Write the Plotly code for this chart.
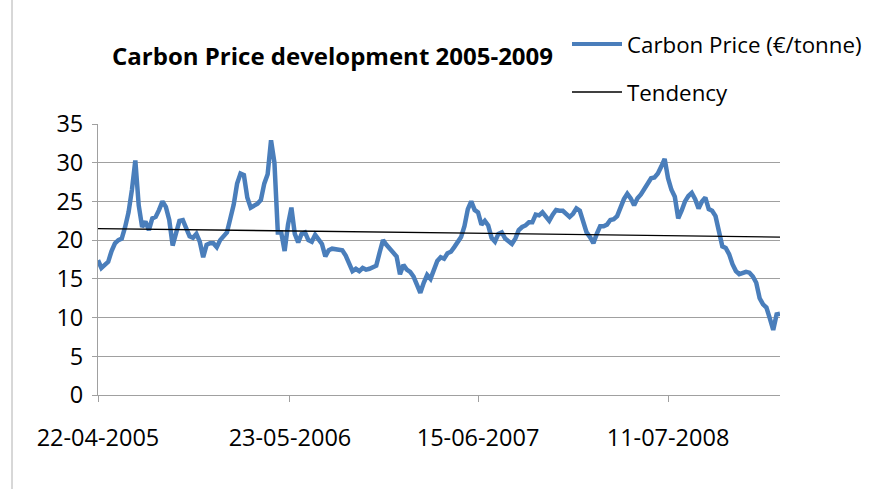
import pandas as pd
import plotly.graph_objects as go

# weekly closing price (EUR / tonne), first week = 22-04-2005
START_DATE = "2005-04-22"
PRICE = [
    17.4, 16.4, 16.8, 17.2, 18.6, 19.6, 20.0, 20.2, 21.7, 23.6,
    26.5, 30.3, 24.5, 21.7, 22.4, 21.3, 22.8, 23.0, 23.9, 25.0,
    24.3, 22.6, 19.3, 21.2, 22.5, 22.6, 21.5, 20.5, 20.3, 20.8,
    19.8, 17.8, 19.4, 19.6, 19.6, 19.1, 20.0, 20.6, 21.0, 22.8,
    24.6, 27.3, 28.6, 28.4, 25.5, 24.2, 24.5, 24.7, 25.2, 27.3,
    28.5, 32.9, 30.0, 21.0, 21.0, 18.6, 22.0, 24.2, 20.8, 19.7,
    20.8, 21.0, 20.0, 19.8, 20.7, 20.2, 19.5, 17.9, 18.7, 18.9,
    18.8, 18.7, 18.7, 18.0, 16.8, 16.0, 16.3, 16.0, 16.4, 16.2,
    16.3, 16.5, 16.7, 18.4, 20.0, 19.4, 18.9, 18.3, 17.9, 15.6,
    16.8, 16.2, 15.9, 15.3, 14.3, 13.2, 14.5, 15.5, 15.0, 16.2,
    17.3, 17.8, 17.6, 18.3, 18.5, 19.1, 19.7, 20.4, 21.8, 24.0,
    25.0, 23.9, 23.6, 22.0, 22.5, 21.9, 20.3, 19.8, 20.8, 21.0,
    20.2, 19.9, 19.5, 20.2, 21.3, 21.7, 21.9, 22.3, 22.3, 23.3,
    23.2, 23.6, 23.0, 22.5, 23.3, 23.9, 23.8, 23.8, 23.4, 23.0,
    23.4, 24.1, 23.8, 22.6, 21.0, 20.4, 19.6, 20.8, 21.8, 21.8,
    22.0, 22.6, 22.7, 23.1, 24.2, 25.3, 26.0, 25.4, 24.5, 25.4,
    25.9, 26.6, 27.3, 28.0, 28.1, 28.6, 29.5, 30.5, 28.0, 26.5,
    25.6, 22.8, 23.8, 25.0, 25.7, 26.1, 25.3, 24.1, 25.0, 25.5,
    24.0, 23.8, 23.1, 21.0, 19.2, 19.0, 18.2, 16.9, 16.0, 15.6,
    15.8, 15.9, 15.8, 15.3, 14.5, 12.5, 11.7, 11.3, 9.9, 8.4,
    10.4, 10.5,
]

# linear tendency, start and end values
TREND = [21.5, 20.4]

TICK_DATES = ["2005-04-22", "2006-05-23", "2007-06-15", "2008-07-11"]
TICK_TEXT = ["22-04-2005", "23-05-2006", "15-06-2007", "11-07-2008"]

SERIES_NAMES = ["Carbon Price (€/tonne)", "Tendency"]

dates = pd.date_range(START_DATE, periods=len(PRICE), freq="7D")

FONT = "Open Sans, Lato, sans-serif"
GRID = "#a0a0a0"
BLUE = "#4a7ebb"

# plot area in pixels (margins), used to place the hand-drawn legend
W, H = 885, 489
L, R, T, B = 98, 105, 124, 94
PW, PH = W - L - R, H - T - B


def px(x):
    return (x - L) / PW


def py(y):
    return (H - B - y) / PH


fig = go.Figure()
fig.add_trace(go.Scatter(
    x=dates, y=PRICE, mode="lines", name=SERIES_NAMES[0],
    line=dict(color=BLUE, width=4.5), showlegend=False,
))
fig.add_trace(go.Scatter(
    x=[dates[0], dates[-1]], y=TREND, mode="lines", name=SERIES_NAMES[1],
    line=dict(color="black", width=1.3), showlegend=False,
))

fig.update_xaxes(
    range=[dates[0], dates[-1]],
    tickvals=TICK_DATES, ticktext=TICK_TEXT,
    showgrid=False, showline=True, linecolor=GRID, linewidth=1,
    ticks="outside", ticklen=6, tickcolor=GRID,
    ticklabelstandoff=16, automargin=False,
    tickfont=dict(family=FONT, size=23.5, color="black"),
)
fig.update_yaxes(
    range=[0, 35], dtick=5,
    showgrid=True, gridcolor=GRID, gridwidth=1,
    showline=True, linecolor=GRID, linewidth=1,
    ticks="outside", ticklen=5, tickcolor=GRID,
    ticklabelstandoff=4, zeroline=False, automargin=False,
    tickfont=dict(family=FONT, size=23.5, color="black"),
)

# legend drawn by hand: long line samples, two rows far apart
legend_rows = [(SERIES_NAMES[0], BLUE, 4, 44), (SERIES_NAMES[1], "black", 1.3, 92)]
shapes = [dict(type="line", xref="paper", yref="paper",
               x0=px(12), x1=px(12), y0=py(H), y1=py(0),
               line=dict(color="#b0b0b0", width=1))]
annotations = []
for name, color, width, yc in legend_rows:
    shapes.append(dict(type="line", xref="paper", yref="paper",
                       x0=px(572), x1=px(622), y0=py(yc), y1=py(yc),
                       line=dict(color=color, width=width)))
    annotations.append(dict(xref="paper", yref="paper", x=px(625), y=py(yc),
                            xanchor="left", yanchor="middle", showarrow=False,
                            text=name, font=dict(family=FONT, size=22.3, color="black")))

fig.update_layout(
    width=W, height=H,
    margin=dict(l=L, r=R, t=T, b=B),
    paper_bgcolor="white", plot_bgcolor="white",
    showlegend=False,
    title=dict(
        text="<b>Carbon Price development 2005-2009</b>",
        x=112 / W, xanchor="left", y=1 - 57 / H, yanchor="middle",
        font=dict(family=FONT, size=24, color="black"),
    ),
    shapes=shapes,
    annotations=annotations,
)

fig.write_html("out.html", config={"displayModeBar": False},
               post_script="document.body.style.margin='0';")
